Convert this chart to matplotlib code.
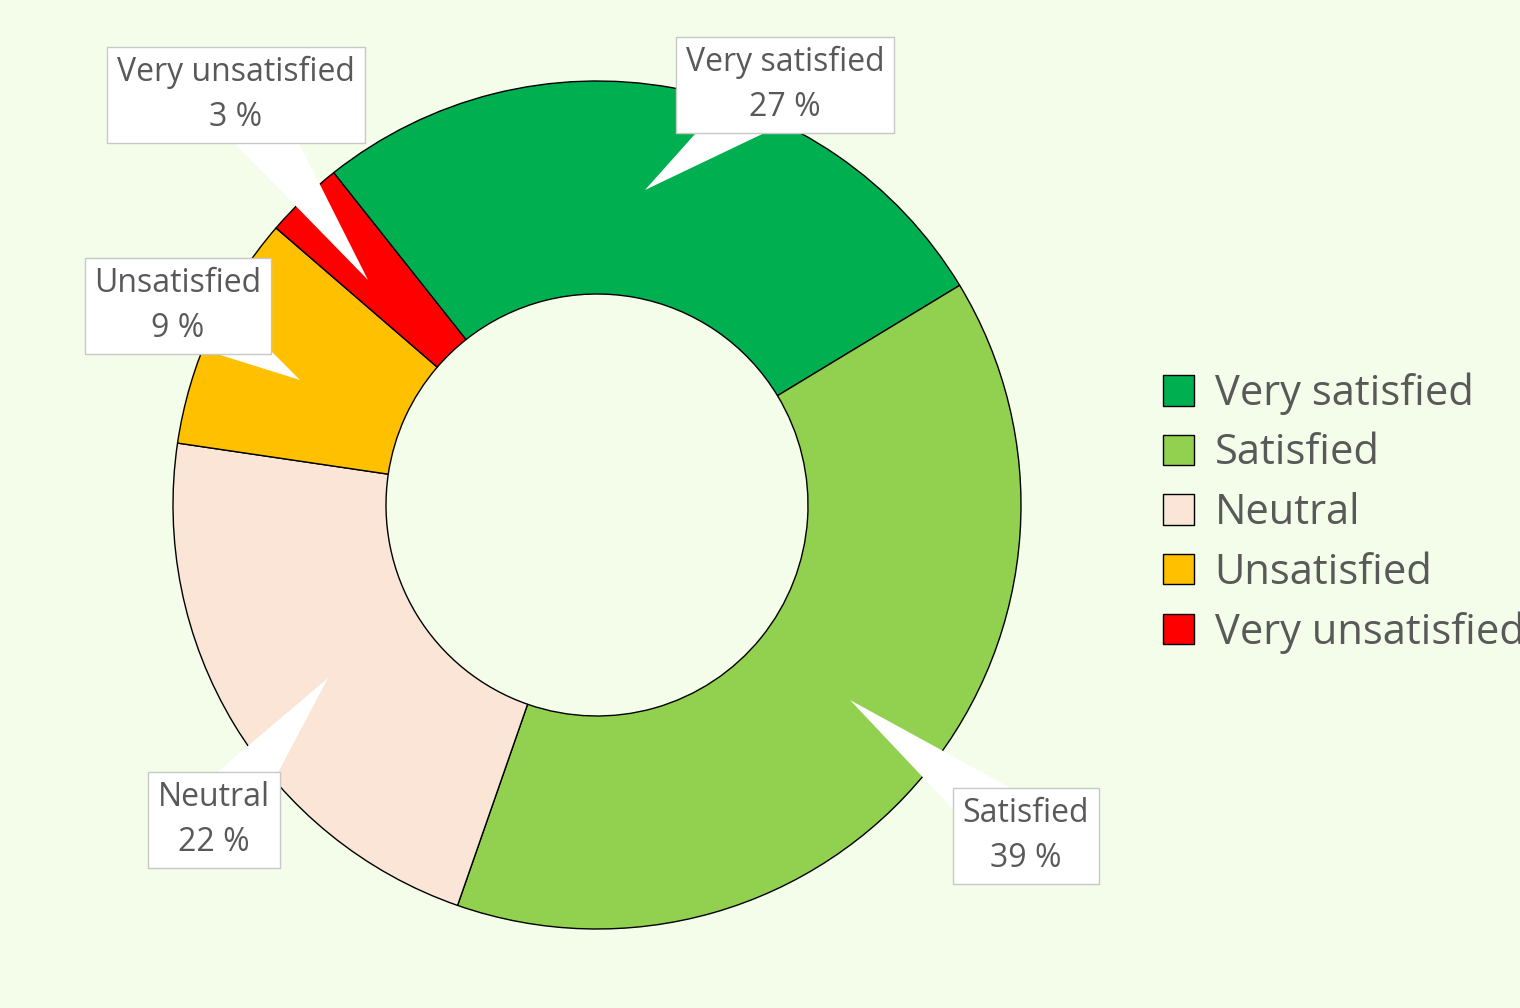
import matplotlib.pyplot as plt

categories = ["Very satisfied", "Satisfied", "Neutral", "Unsatisfied", "Very unsatisfied"]
shares = [27, 39, 22, 9, 3]
colors = ["#00B050", "#92D050", "#FBE5D6", "#FFC000", "#FF0000"]

# label box centers and pointer tips (pixel coords, y from top)
label_pos = [(785, 85), (1026, 836), (214, 820), (178, 306), (236, 95)]
tip_pos = [(645, 190), (850, 700), (328, 678), (300, 380), (368, 280)]

W, H = 1520, 1008
bg = "#F3FDE9"
fig = plt.figure(figsize=(15.2, 10.08), dpi=100, facecolor=bg)
ax = fig.add_axes([0, 0, 1, 1])
ax.set_xlim(0, W)
ax.set_ylim(0, H)
ax.set_aspect("equal")
ax.axis("off")

wedges, _ = ax.pie(shares, colors=colors, startangle=128.4, counterclock=False,
                   center=(597, H - 505), radius=424,
                   wedgeprops=dict(width=213, edgecolor="black", linewidth=1))
ax.set_xlim(0, W)
ax.set_ylim(0, H)

for cat, val, (lx, ly), (tx, ty) in zip(categories, shares, label_pos, tip_pos):
    ax.annotate(f"{cat}\n{val} %", xy=(tx, H - ty), xytext=(lx, H - ly),
                ha="center", va="center", fontsize=23, color="#595959",
                linespacing=1.45, family="Open Sans",
                bbox=dict(boxstyle="square,pad=0.3", fc="white", ec="#C8C8C8", lw=1),
                arrowprops=dict(arrowstyle="wedge,tail_width=2.2,shrink_factor=0.5",
                                fc="white", ec="none", patchA=None, shrinkA=0, shrinkB=0))

fig.legend(wedges, categories, loc="upper left", bbox_to_anchor=(1125 / W, 1 - 335 / H),
           frameon=False, handlelength=0.75, handleheight=0.75,
           labelspacing=0.42, handletextpad=0.5, labelcolor="#595959",
           prop=dict(family="Open Sans", size=30))

fig.savefig("out.png", dpi=100, facecolor=bg)
